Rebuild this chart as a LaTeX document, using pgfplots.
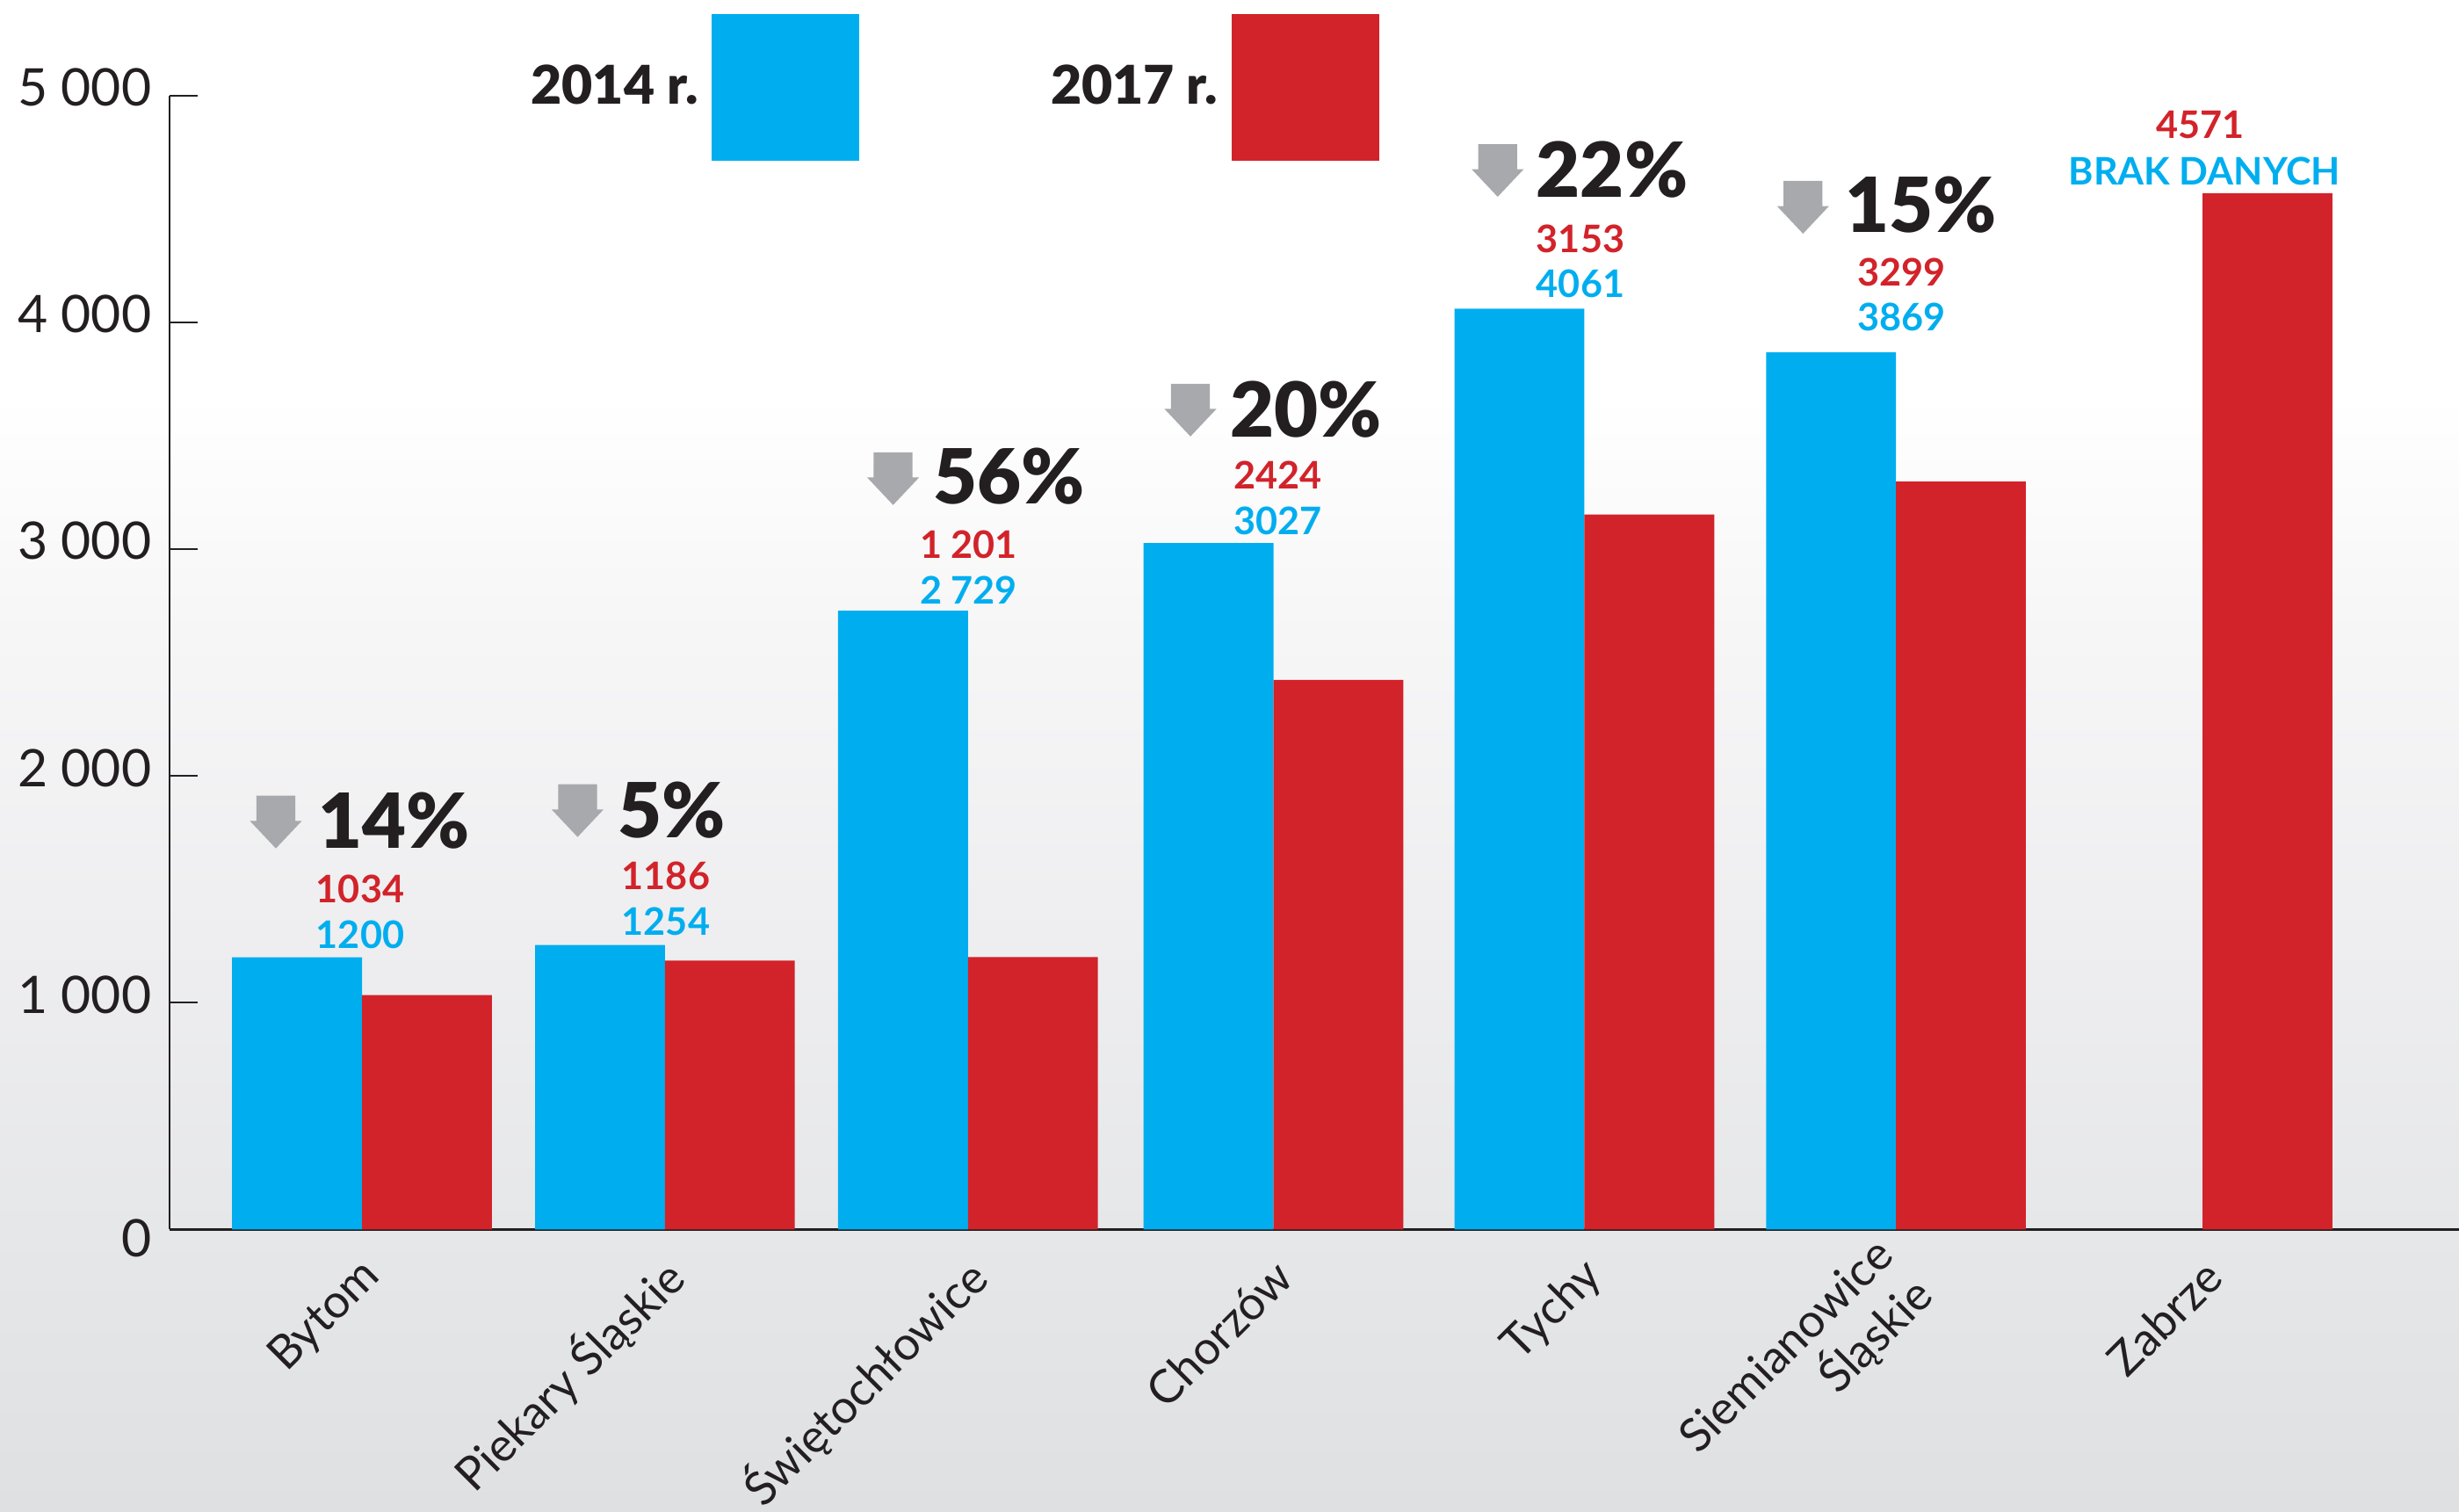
\documentclass[border=0pt]{standalone}
\usepackage{fontspec}
\setmainfont{Lato}
\IfFontExistsTF{Lato Black}{\newfontfamily\latoblack{Lato Black}}{\newcommand\latoblack{\bfseries}}
\usepackage{pgfplots}
\pgfplotsset{compat=1.18}
\definecolor{cblue}{RGB}{0,174,239}
\definecolor{cred}{RGB}{210,35,42}
\definecolor{ctext}{RGB}{35,31,32}
\definecolor{cgray}{RGB}{167,169,172}
\definecolor{bgA}{RGB}{223,224,226}
\definecolor{bgB}{RGB}{230,231,233}
\definecolor{bgC}{RGB}{238,238,240}
\definecolor{bgD}{RGB}{246,246,247}
\pgfdeclareverticalshading{bgshade}{100bp}{color(0bp)=(bgA); color(25bp)=(bgA); color(34.3bp)=(bgB); color(44bp)=(bgC); color(54bp)=(bgD); color(62bp)=(white); color(100bp)=(white)}
\newcommand\pctfont{\latoblack\fontsize{24.2}{29}\selectfont}
\newcommand\valfont{\bfseries\fontsize{12.1}{14}\selectfont}
\newcommand\legfont{\latoblack\fontsize{17}{21}\selectfont}
\newcommand{\darrow}[2]{\fill[cgray] (axis cs:#1,#2) -- ++(-8.3pt,8.8pt) -- ++(2.1pt,0pt) -- ++(0pt,8pt) -- ++(12.4pt,0pt) -- ++(0pt,-8pt) -- ++(2.1pt,0pt) -- cycle;}
\newcommand{\pct}[3]{\node[anchor=base west, inner sep=0pt, text=ctext, font=\pctfont] at (axis cs:#1,#2) {#3};}
\newcommand{\val}[4]{\node[inner sep=0pt, text=#1, font=\valfont] at (axis cs:#2,#3) {#4};}
\begin{document}
\begin{tikzpicture}
\shade[shading=bgshade] (0,0) rectangle (784pt,482pt);
\begin{axis}[
  at={(54.15pt,90.05pt)}, anchor=south west,
  scale only axis, width=729.85pt, height=361.4pt,
  xmin=108.3, xmax=1568, ymin=0, ymax=5000,
  clip=false,
  axis lines*=left,
  x axis line style={line width=0.9pt, color=ctext},
  y axis line style={line width=0.55pt, color=ctext},
  ybar,
  xtick={230.8,424.0,617.2,812.0,1010.3,1209,1404.9},
  xticklabels={Bytom,Piekary Śląskie,Świętochłowice,Chorzów,Tychy,Siemianowice\\Śląskie,Zabrze},
  xtick style={draw=none},
  xticklabel style={xshift=3.5pt, yshift=-12.5pt, rotate=45, anchor=east, inner sep=0pt, align=right, font=\fontsize{14.8}{18}\selectfont, text=ctext},
  ytick={0,1000,2000,3000,4000,5000},
  yticklabels={\raisebox{-5.45pt}{0},1 000,2 000,3 000,4 000,5 000},
  tick align=inside,
  major tick length=9pt,
  ytick style={line width=0.55pt, color=ctext},
  yticklabel style={anchor=base east, inner sep=0pt, xshift=-5.7pt, yshift=-3.3pt, font=\fontsize{16.5}{19}\selectfont, text=ctext},
]
\addplot[fill=cblue, draw=none, bar width=82.8, bar shift=0pt] coordinates {
 (189.4,1200) (382.6,1254) (575.8,2729) (770.6,3027) (968.9,4061) (1167.6,3869)};
\addplot[fill=cred, draw=none, bar width=82.8, bar shift=0pt] coordinates {
 (272.2,1034) (465.4,1186) (658.6,1201) (853.4,2424) (1051.7,3153) (1250.4,3299) (1445.9,4571)};
% legend
\fill[cblue] (axis cs:453.8,4712.3) rectangle (axis cs:548.1,5360.5);
\fill[cred] (axis cs:785.3,4712.3) rectangle (axis cs:879.6,5360.5);
\node[anchor=base east, inner sep=0pt, text=ctext, font=\legfont] at (axis cs:445.5,4964.1) {2014 r.};
\node[anchor=base east, inner sep=0pt, text=ctext, font=\legfont] at (axis cs:776.9,4964.1) {2017 r.};
% Bytom
\darrow{175.9}{1680.3}\pct{202.6}{1680.3}{14\%}
\val{cred}{229.7}{1502.5}{1034}\val{cblue}{229.7}{1299.8}{1200}
% Piekary
\darrow{368.3}{1730.8}\pct{393.5}{1728.7}{5\%}
\val{cred}{424.6}{1559.2}{1186}\val{cblue}{424.6}{1357.9}{1254}
% Swietochlowice
\darrow{569.5}{3195.2}\pct{594.6}{3200.8}{56\%}
\val{cred}{617.6}{3019.5}{1 201}\val{cblue}{617.6}{2819.6}{2 729}
% Chorzow
\darrow{759.1}{3497.5}\pct{784.2}{3495.5}{20\%}
\val{cred}{814.7}{3326.7}{2424}\val{cblue}{814.7}{3126.1}{3027}
% Tychy
\darrow{955}{4554.6}\pct{979.3}{4554.6}{22\%}
\val{cred}{1007.8}{4369.8}{3153}\val{cblue}{1007.8}{4170.6}{4061}
% Siemianowice
\darrow{1149.7}{4392.0}\pct{1176.3}{4399.6}{15\%}
\val{cred}{1212.7}{4221.1}{3299}\val{cblue}{1212.7}{4022.6}{3869}
% Zabrze
\val{cred}{1402.9}{4873.4}{4571}\val{cblue}{1405.7}{4668.7}{BRAK DANYCH}
\end{axis}
\pgfresetboundingbox
\useasboundingbox (0,0) rectangle (784pt,482pt);
\end{tikzpicture}
\end{document}
